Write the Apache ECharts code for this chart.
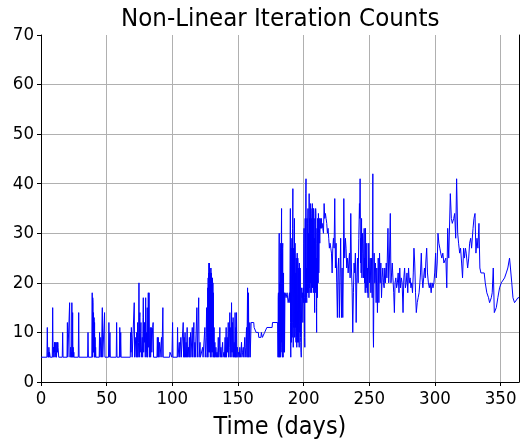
<!DOCTYPE html>
<html>
<head>
<meta charset="utf-8">
<script src="https://cdn.jsdelivr.net/npm/echarts@6/dist/echarts.min.js"></script>
<style>
html,body{margin:0;padding:0;background:#fff;}
#chart{width:520px;height:445px;}
</style>
</head>
<body>
<div id="chart"></div>
<script>
// Data: [day, non-linear iteration count]
const seg1 = [[0,5],[4.5,5],[4.8,11],[5.1,6],[5.3,5],[5.5,6],[5.8,5],[6,7],[6.3,5],[6.5,6],[7,5],[8.6,5],[8.9,15],[9.2,5],[9.4,7],[9.6,6],[9.8,7],[10,5],[10.3,8],[10.5,6],[10.8,8],[11,6],[11.3,5],[11.5,8],[11.8,5],[12,5],[12.3,8],[12.5,6],[12.8,8],[13,7],[13.5,5],[16.2,5],[16.5,10],[16.8,5],[19.8,5],[20.1,12],[20.4,5],[21.5,5],[21.8,16],[22.1,5],[22.3,6],[22.5,7],[22.8,5],[23,6],[23.3,5],[23.5,16],[23.8,5],[24.1,14],[24.3,5],[24.5,7],[24.7,5],[25,6],[25.2,5],[28.4,5],[28.7,14],[29,5],[35.5,5],[35.8,10],[36.1,5],[38.7,5],[39,18],[39.2,5],[39.4,17],[39.6,16],[39.8,6],[40,14],[40.2,6],[40.4,13],[40.6,5],[40.8,12],[41,5],[41.2,9],[41.4,5],[41.6,7],[41.8,5],[44.3,5],[44.6,10],[44.9,5],[45.5,9],[46,5],[46.4,5],[46.7,15],[47,5],[48.1,5],[48.4,14],[48.7,5],[51.4,5],[51.7,12],[52,5],[52.5,10],[52.8,5],[57.3,5],[57.6,12],[57.9,5],[59.7,5],[60,11],[60.3,5],[60.7,10],[61,5]];
const seg2 = [[68,5],[68.2,10],[68.5,6],[68.8,11],[69.1,9],[69.4,5],[70.7,5],[71,16],[71.3,5],[72.2,9],[72.5,5],[72.9,10],[73.2,5],[73.6,12],[73.9,5],[74.3,8],[74.6,20],[74.9,5],[75.1,13],[75.3,14],[75.6,6],[75.9,10],[76.1,12],[76.4,5],[77.1,9],[77.4,5],[77.7,13],[77.9,17],[78.2,6],[78.4,10],[78.6,12],[78.9,8],[79.2,12],[79.4,5],[79.7,17],[80,6],[80.2,9],[80.4,10],[80.6,5],[80.9,15],[81.2,5],[81.5,12],[81.7,18],[82,7],[82.3,18],[82.6,5],[82.9,9],[83.2,11],[83.5,5],[84,11],[84.4,6],[85,11],[85.4,12],[85.7,5],[88.3,5],[88.6,9],[88.9,5],[89.3,9],[89.6,5],[90.3,8],[90.6,5],[91.8,9],[92.1,5],[92.8,15],[93.1,5],[97.9,5],[98.2,6],[98.8,6],[99.4,6],[99.7,5],[100.2,12],[100.5,5]];
const seg3 = [[103.7,5],[104,11],[104.3,5],[105.3,8],[105.6,5],[106.5,9],[106.8,5],[108.3,12],[108.6,5],[109,9],[109.3,5],[109.7,10],[110,5],[110.5,8],[110.8,5],[111.3,11],[111.6,5],[112.3,7],[112.6,5],[113,9],[113.3,5],[113.9,10],[114.2,5],[115.2,11],[115.5,5],[116.4,12],[116.7,5],[117.2,8],[117.5,5],[118.7,15],[119,5],[120.1,17],[120.4,5],[121.1,8],[121.4,5],[123.1,7],[123.4,5],[124.8,11],[125.1,5],[125.8,9],[126.1,15],[126.4,5],[126.8,6],[127,19],[127.15,5],[127.3,21],[127.45,7],[127.6,22],[127.75,6],[127.9,24],[128.05,9],[128.2,24],[128.35,6],[128.5,23],[128.65,8],[128.8,22],[128.95,5],[129.1,21],[129.25,10],[129.4,23],[129.55,6],[129.7,22],[129.85,7],[130,20],[130.15,5],[130.3,21],[130.45,9],[130.6,21],[130.75,6],[130.9,20],[131.05,8],[131.2,18],[131.4,5],[131.8,11],[132.1,5],[132.4,8],[132.7,5]];
const seg4 = [[133.2,7],[133.6,5],[134,6],[134.4,5],[134.8,7],[135,9],[135.3,5],[135.7,6],[136.2,11],[136.5,5],[137,7],[137.4,5],[138.3,8],[138.6,5],[139.3,6],[139.7,5],[140.2,9],[140.5,5],[141,11],[141.3,5],[141.8,9],[142.1,6],[142.6,12],[142.9,5],[143.3,7],[143.8,14],[144.1,5],[144.5,11],[144.8,6],[145.1,16],[145.4,5],[145.8,12],[146.1,6],[146.3,13],[146.6,5],[147.1,8],[147.4,5],[147.8,14],[148.1,5],[148.4,11],[148.6,5],[148.9,14],[149.2,5],[149.6,7],[150,5],[150.5,6],[151,5],[151.4,7],[151.8,5],[152.3,6],[152.7,8],[153,5],[153.5,6],[154,7],[154.4,5],[155.2,9],[155.5,5],[156,7],[156.5,11],[156.8,5],[157.3,19],[157.6,5],[158,18],[158.3,5],[158.7,5],[159,12],[159.3,5],[159.6,5],[160,12],[162,12],[162.3,11],[163.5,11],[163.8,10],[165.5,10],[165.8,9],[167.5,9],[167.8,10],[168.3,10],[168.6,9],[170,9],[170.3,10],[171.7,10],[172,11],[176,11],[176.3,12],[180.2,12]];
const seg5 = [[180.5,5],[180.65,17],[180.8,18],[180.95,6],[181.1,5],[181.25,24],[181.4,30],[181.55,6],[181.7,5],[181.85,20],[182,18],[182.15,6],[182.3,5],[182.45,26],[182.6,28],[182.75,6],[182.9,7],[183.05,30],[183.2,35],[183.35,8],[183.5,26],[183.65,6],[183.8,5],[183.95,27],[184.1,28],[184.25,6],[184.4,5],[184.55,20],[184.7,22],[184.85,6],[185,8],[185.15,17],[185.3,18],[185.45,6],[185.6,6],[185.75,17],[185.9,18],[186.4,18],[186.6,17],[187.2,17],[187.4,18],[188,18],[188.2,16],[188.8,17],[189.2,18],[189.5,16],[189.9,35],[190.05,12],[190.2,5],[190.35,22],[190.5,27],[190.65,10],[190.8,8],[190.95,25],[191.1,29],[191.25,9],[191.4,12],[191.6,31],[191.8,39],[191.95,14],[192.1,7],[192.25,24],[192.4,27],[192.55,11],[192.7,16],[192.85,30],[193,33],[193.15,9],[193.3,10],[193.45,28],[193.6,26],[193.75,11],[193.9,22],[194.05,9],[194.2,8],[194.35,25],[194.5,24],[194.65,9],[194.8,7],[194.95,23],[195.1,26],[195.25,8],[195.4,9],[195.55,25],[195.7,24],[195.85,10],[196,8],[196.15,22],[196.3,23],[196.45,9],[196.6,7],[196.75,24],[196.9,24],[197.05,10],[197.2,12],[197.35,23],[197.5,22],[197.65,9],[197.8,8],[198,6],[198.2,5],[198.5,19],[198.8,17],[199.1,18],[199.4,12],[199.7,19]];
const seg6 = [[200,16],[200.15,28],[200.3,31],[200.45,18],[200.6,17],[200.75,9],[200.9,7],[201.05,30],[201.2,33],[201.35,17],[201.5,16],[201.65,38],[201.8,41],[201.95,20],[202.1,23],[202.25,17],[202.4,16],[202.55,33],[202.7,31],[202.85,19],[203,18],[203.15,32],[203.3,35],[203.45,18],[203.6,20],[203.75,30],[203.9,26],[204.05,17],[204.2,38],[204.35,21],[204.5,19],[204.65,33],[204.8,29],[204.95,18],[205.1,36],[205.25,20],[205.4,23],[205.55,35],[205.7,34],[205.85,18],[206,19],[206.15,33],[206.3,31],[206.45,20],[206.6,36],[206.75,19],[206.9,22],[207.05,33],[207.2,35],[207.35,18],[207.5,19],[207.65,35],[207.8,34],[207.95,20],[208.1,29],[208.25,17],[208.4,14],[208.55,33],[208.7,30],[208.85,18],[209,20],[209.15,35],[209.3,34],[209.45,19],[209.6,25],[209.75,15],[209.9,10],[210.05,28],[210.2,31],[210.35,19],[210.5,17],[210.65,33],[210.8,32],[210.95,21],[211.1,20],[211.25,34],[211.4,33],[211.55,22],[211.7,25],[211.85,33],[212,31],[212.3,28],[212.6,33],[212.9,31],[213.2,32],[213.5,33],[213.8,31],[214.1,32],[214.6,31],[215.1,30],[215.6,36],[216.1,33],[216.6,34],[217.1,33],[217.6,32],[218.1,30],[218.6,31],[219.1,29],[219.6,27],[220.1,28],[220.7,27],[221.2,26],[221.7,22],[222.2,27],[222.7,29],[223.2,27],[223.7,37],[224.2,23],[224.7,28],[225.2,20],[225.7,13],[226.2,23],[226.7,25],[227.2,13],[227.7,21],[228.2,29],[228.8,13],[229.3,23],[229.8,13],[230.3,24],[230.6,37],[230.9,29],[231.3,25],[231.8,29],[232.3,27],[232.8,23],[233.4,25],[233.9,22],[234.4,24],[234.9,26],[235.4,21],[235.9,34],[236.4,23],[236.9,19],[237.4,10],[237.9,18],[238.4,24],[238.9,22],[239.4,26],[240,12],[240.5,21],[241,25],[241.5,20],[242,29],[242.5,36],[242.8,33],[243,41],[243.3,24],[243.5,29],[243.8,22],[244.1,33],[244.4,21],[244.6,26],[244.9,30],[245.1,29],[245.4,23],[245.6,21],[245.9,28],[246.1,31],[246.4,20],[246.6,25],[246.9,18],[247.1,31],[247.4,22],[247.6,19],[247.9,24],[248.1,28],[248.4,18],[248.6,23],[249.1,17],[249.6,28],[250.2,20],[250.7,25],[251.2,18],[251.7,25],[252.2,17],[252.7,42],[253,10],[253.2,7],[253.7,26],[254.2,20],[254.7,24],[255.2,16],[255.7,23],[256.2,14],[256.8,25],[257.3,16],[257.8,26],[258.3,20],[258.8,24],[259.3,17],[259.8,21],[260.3,23],[260.8,20],[261.3,19],[261.8,23],[262.3,20],[262.9,24],[263.4,21]];
const seg7 = [[264.2,31],[264.8,20],[265.3,24],[266,34],[266.5,20],[267,22],[267.5,24],[268,21],[268.6,18],[269.1,14],[269.6,20],[270.2,21],[270.8,19],[271.4,20],[272,22],[272.6,18],[273.2,23],[273.8,19],[274.4,21],[275,20],[275.7,14],[276.3,21],[276.9,23],[277.5,19],[278.1,20],[278.7,22],[279.3,18],[279.9,23],[280.5,20],[281.1,21],[281.7,19],[282.3,20],[282.9,18],[283.5,22],[284,27],[284.6,24],[285.2,18],[285.8,14],[286.5,16],[287.2,17],[287.9,18],[288.5,20],[289,22],[289.6,26],[290.2,21],[290.8,19],[291.4,21],[292,23],[292.6,21],[293,24],[293.7,27],[294.3,22],[295,20],[295.7,19],[296.4,20],[297.1,18],[297.8,20],[298.5,19],[299.2,20],[299.8,22]];
const seg8 = [[300.5,26],[301,21],[301.7,24],[302.3,30],[303,28],[303.7,27],[304.4,26],[305.2,25],[306,26],[306.8,24],[307.5,24],[308.3,25],[309,19],[309.7,31],[310.5,25],[311.7,38],[312.5,33],[313.2,32],[314.3,33],[315,34],[315.8,29],[316.5,41],[317.3,30],[318,28],[318.8,26],[319.5,27],[320.3,24],[321,21],[321.8,27],[322.5,25],[323.2,27],[323.8,26],[324.9,23],[325.7,25],[326.4,28],[327.2,29],[327.9,27],[329,31],[329.7,33],[330.5,34],[331.2,26],[332,29],[332.7,27],[333.5,32],[334.2,23],[335,22],[336.3,22],[337.5,22],[338.3,20],[339.5,18],[340.8,17],[341.6,16],[342.9,17],[343.6,18],[344.4,23],[345.2,14],[345.9,14],[346.7,15],[347.9,17],[349.2,19],[350.5,20],[351.8,20],[353,21],[354.3,22],[355.5,23],[356.8,25],[357.5,23],[358.5,20],[359.4,17],[360.6,16],[361.9,16],[363.2,17],[364,17]];

const xTicks = [0, 50, 100, 150, 200, 250, 300, 350];
const yTicks = [0, 10, 20, 30, 40, 50, 60, 70];

const series = [].concat(seg1, seg2, seg3, seg4, seg5, seg6, seg7, seg8);

const FONT = "'DejaVu Sans Condensed', 'DejaVu Sans', sans-serif";
const chart = echarts.init(document.getElementById('chart'), null, {renderer: 'canvas'});
chart.setOption({
  animation: false,
  backgroundColor: '#ffffff',
  title: {
    text: 'Non-Linear Iteration Counts',
    left: 121,
    top: 6,
    padding: 0,
    textStyle: {fontFamily: FONT, fontSize: 25.6, fontWeight: 'normal', color: '#000'}
  },
  grid: {left: 41, right: 1, top: 35, bottom: 63, containLabel: false},
  xAxis: {
    type: 'value', min: 0, max: 364, interval: 50,
    name: 'Time (days)', nameLocation: 'middle', nameGap: 33,
    nameTextStyle: {fontFamily: FONT, fontSize: 25, color: '#000'},
    axisLine: {show: true, lineStyle: {color: '#000', width: 1}},
    axisTick: {show: true, length: 4, lineStyle: {color: '#000'}},
    axisLabel: {fontFamily: FONT, fontSize: 18.5, color: '#000', margin: 8, showMaxLabel: false,
      formatter: v => xTicks.includes(v) ? String(v) : ''},
    splitLine: {show: true, showMinLine: false, showMaxLine: false, lineStyle: {color: '#b0b0b0', width: 1}}
  },
  yAxis: [{
    type: 'value', min: 0, max: 70, interval: 10,
    axisLine: {show: true, lineStyle: {color: '#000', width: 1}},
    axisTick: {show: true, length: 4, lineStyle: {color: '#000'}},
    axisLabel: {fontFamily: FONT, fontSize: 18.5, color: '#000', margin: 7,
      formatter: v => yTicks.includes(v) ? String(v) : ''},
    splitLine: {show: true, showMinLine: false, showMaxLine: false, lineStyle: {color: '#b0b0b0', width: 1}}
  }, {
    type: 'value', min: 0, max: 70, interval: 10, position: 'right',
    axisLine: {show: true, onZero: false, lineStyle: {color: '#000', width: 1}},
    axisTick: {show: false}, axisLabel: {show: false}, splitLine: {show: false}
  }],
  series: [{
    type: 'line',
    data: series,
    showSymbol: false,
    symbol: 'none',
    sampling: null,
    lineStyle: {color: '#0000ff', width: 1},
    emphasis: {disabled: true},
    silent: true
  }]
});
</script>
</body>
</html>
